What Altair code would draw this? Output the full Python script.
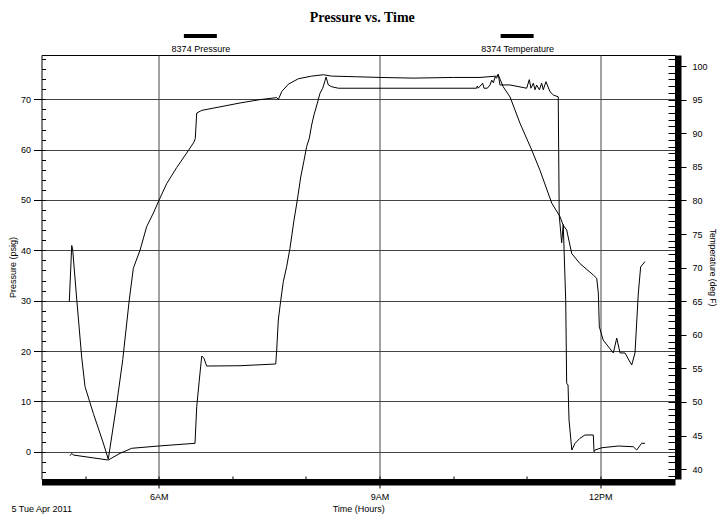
import altair as alt
import pandas as pd

DAY = "2011-04-05"

chart_title = "Pressure vs. Time"
legend_labels = ["8374 Pressure", "8374 Temperature"]
date_label = "5 Tue Apr 2011"
x_title = "Time (Hours)"
left_title = "Pressure (psig)"
right_title = "Temperature (deg F)"

# 8374 Pressure (left axis, psig)
press_times = [
    "04:47:42", "04:49:06", "04:50:24", "05:18:54", "05:28:30", "05:38:00", "05:59:42", "06:29:36",
    "06:31:00", "06:33:06", "06:35:06", "06:36:54", "06:39:06", "07:06:18", "07:35:24", "07:36:12",
    "07:37:30", "07:39:30", "07:41:36", "07:44:18", "07:47:00", "07:50:18", "07:53:00", "07:55:48",
    "07:58:30", "08:00:36", "08:02:48", "08:04:42", "08:06:36", "08:09:18", "08:11:30", "08:13:42",
    "08:15:36", "08:16:24", "08:18:18", "08:21:00", "08:26:24", "10:19:12", "10:19:42", "10:20:30",
    "10:24:06", "10:25:12", "10:27:54", "10:30:06", "10:31:30", "10:32:48", "10:34:12", "10:35:30",
    "10:36:48", "10:38:12", "10:46:24", "11:00:00", "11:02:06", "11:03:30", "11:05:24", "11:06:48",
    "11:08:06", "11:10:18", "11:12:12", "11:13:30", "11:15:42", "11:19:00", "11:21:42", "11:25:42",
    "11:26:30", "11:28:30", "11:29:48", "11:31:48", "11:32:36", "11:33:42", "11:34:30", "11:36:48",
    "11:39:24", "11:43:24", "11:47:30", "11:54:18", "11:54:54", "11:55:42", "12:01:12", "12:14:42",
    "12:26:54", "12:29:42", "12:33:42", "12:36:24",
]
press_values = [
    -0.79, -0.32, -0.66, -1.65, -0.32, 0.68, 1.13, 1.67,
    8.94, 14.24, 19.01, 18.55, 17.02, 17.08, 17.42, 20.2,
    26.16, 30.1, 33.8, 36.75, 40.4, 46.0, 50.0, 54.6,
    57.9, 60.6, 62.3, 64.9, 66.9, 69.2, 71.2, 72.2,
    73.7, 74.4, 72.85, 72.5, 72.2, 72.2, 72.65, 72.2,
    73.2, 72.2, 72.2, 72.85, 73.8, 73.3, 74.4, 74.2,
    75.0, 72.85, 72.85, 72.2, 73.9, 72.2, 73.2, 71.9,
    72.85, 71.9, 73.2, 71.9, 73.5, 71.5, 70.85, 70.5,
    47.0, 41.5, 45.1, 30.1, 13.6, 13.25, 6.3, 0.34,
    1.67, 2.66, 3.32, 3.32, 0.0, 0.34, 0.79, 1.13,
    0.99, 0.34, 1.67, 1.67,
]

# 8374 Temperature (right axis, deg F)
temp_times = [
    "04:47:06", "04:49:06", "04:49:54", "04:53:12", "04:57:12", "04:59:54", "05:06:42", "05:14:48",
    "05:18:54", "05:25:48", "05:30:42", "05:36:00", "05:39:18", "05:44:48", "05:50:12", "05:55:36",
    "06:00:12", "06:06:30", "06:14:42", "06:24:06", "06:28:48", "06:29:48", "06:31:00", "06:35:06",
    "07:06:18", "07:22:36", "07:36:12", "07:37:30", "07:40:18", "07:45:42", "07:53:48", "08:04:42",
    "08:14:12", "08:21:00", "08:41:24", "09:00:24", "09:27:30", "10:00:12", "10:21:54", "10:35:30",
    "10:36:48", "10:40:54", "10:46:24", "10:54:30", "11:04:06", "11:10:48", "11:20:24", "11:27:06",
    "11:29:48", "11:32:36", "11:36:42", "11:43:24", "11:54:18", "11:57:06", "11:58:24", "11:59:12",
    "12:02:24", "12:10:36", "12:13:24", "12:16:06", "12:20:06", "12:25:36", "12:28:18", "12:31:00",
    "12:32:54", "12:36:24",
]
temp_values = [
    64.9, 73.3, 72.6, 65.2, 56.7, 52.3, 48.3, 43.9,
    41.5, 49.8, 56.3, 65.2, 69.9, 72.6, 76.1, 78.1,
    80.0, 82.5, 84.9, 87.4, 88.7, 89.2, 93.0, 93.4,
    94.5, 95.0, 95.3, 95.0, 96.2, 97.3, 98.1, 98.5,
    98.7, 98.5, 98.4, 98.3, 98.2, 98.3, 98.3, 98.5,
    98.7, 96.9, 95.4, 91.5, 87.5, 84.5, 79.6, 77.6,
    76.3, 75.6, 72.1, 70.6, 68.9, 68.4, 66.2, 61.2,
    59.2, 57.3, 59.5, 57.3, 57.3, 55.5, 57.3, 66.2,
    70.1, 70.9,
]

major_hours = [6, 9, 12]
minor_hours = [5, 6, 7, 8, 9, 10, 11, 12]
press_major = list(range(0, 71, 10))
press_minor = list(range(-4, 79, 2))
temp_major = list(range(40, 101, 5))
temp_minor = list(range(39, 102))

FONT = "Liberation Sans"
GRID = "#444444"


def dt(h, m=0, s=0):
    return alt.DateTime(year=2011, month=4, date=5, hours=h, minutes=m, seconds=s)


press_df = pd.DataFrame({"time": [f"{DAY}T{t}" for t in press_times], "value": press_values})
temp_df = pd.DataFrame({"time": [f"{DAY}T{t}" for t in temp_times], "value": temp_values})

x_scale = alt.Scale(domain=[dt(4, 24, 27), dt(13, 0, 54)], nice=False)
p_scale = alt.Scale(domain=[-5.42, 78.8], nice=False, zero=False)
t_scale = alt.Scale(domain=[38.54, 101.64], nice=False, zero=False)

lab = dict(labelFont=FONT, labelFontSize=9, labelColor="black")
tit = dict(titleFont=FONT, titleFontSize=9, titleFontWeight="normal", titleColor="black")

x_major = alt.Axis(orient="bottom", values=[dt(h) for h in major_hours], format="%-I%p",
                   offset=3, domain=True, domainWidth=6, domainColor="black",
                   tickSize=6, tickColor="black", grid=True, gridColor=GRID, gridWidth=1,
                   labelPadding=4, title=x_title, titlePadding=3, **lab, **tit)
x_minor = alt.Axis(orient="bottom", values=[dt(h) for h in minor_hours], offset=-3,
                   domain=False, tickSize=3, tickColor="black", labels=False, grid=False, title=None)
y_left = alt.Axis(orient="left", values=press_major, domain=False, tickSize=8, tickColor="black",
                  grid=True, gridColor=GRID, gridWidth=1, labelPadding=3,
                  title=left_title, titlePadding=3, **lab, **tit)
y_left_minor = alt.Axis(orient="left", values=press_minor, offset=-4, domain=False, tickSize=4,
                        tickColor="black", labels=False, grid=False, title=None)
y_right = alt.Axis(orient="right", values=temp_major, offset=3, domain=True, domainWidth=6,
                   domainColor="black", tickSize=8, tickColor="black", grid=False, labelPadding=6,
                   title=right_title, titlePadding=0, titleFont=FONT, titleFontSize=8.5,
                   titleFontWeight="normal", titleColor="black", **lab)
y_right_minor = alt.Axis(orient="right", values=temp_minor, offset=-7, domain=False, tickSize=7,
                         tickColor="black", labels=False, grid=False, title=None)

pressure = alt.Chart(press_df).mark_line(color="black", strokeWidth=1).encode(
    x=alt.X("time:T", scale=x_scale, axis=x_major),
    y=alt.Y("value:Q", scale=p_scale, axis=y_left),
)
temperature = alt.Chart(temp_df).mark_line(color="black", strokeWidth=1).encode(
    x=alt.X("time:T", scale=x_scale, axis=None),
    y=alt.Y("value:Q", scale=t_scale, axis=y_right),
)
press_ticks = alt.Chart(press_df).mark_line(strokeOpacity=0).encode(
    x=alt.X("time:T", scale=x_scale, axis=x_minor),
    y=alt.Y("value:Q", scale=p_scale, axis=y_left_minor),
)
temp_ticks = alt.Chart(temp_df).mark_line(strokeOpacity=0).encode(
    x=alt.X("time:T", scale=x_scale, axis=None),
    y=alt.Y("value:Q", scale=t_scale, axis=y_right_minor),
)

legend_layers = []
for frac, label in zip([0.25, 0.75], legend_labels):
    one = pd.DataFrame({"label": [label]})
    legend_layers.append(
        alt.Chart(one).mark_rule(color="black", strokeWidth=4).encode(
            x=alt.value({"expr": f"width * {frac} - 16"}),
            x2=alt.value({"expr": f"width * {frac} + 17"}),
            y=alt.value(-19),
        )
    )
    legend_layers.append(
        alt.Chart(one).mark_text(font=FONT, fontSize=9, color="black", align="center",
                                 baseline="alphabetic").encode(
            text="label:N",
            x=alt.value({"expr": f"width * {frac} + 1"}),
            y=alt.value(-3.5),
        )
    )

date_text = alt.Chart(pd.DataFrame({"d": [date_label]})).mark_text(
    font=FONT, fontSize=9, color="black", align="left", baseline="alphabetic"
).encode(
    text="d:N",
    x=alt.value(-30),
    y=alt.value({"expr": "height + 32.5"}),
)

chart = alt.layer(pressure, temperature, press_ticks, temp_ticks, *legend_layers, date_text).resolve_scale(
    y="independent"
).resolve_axis(
    x="independent", y="independent"
).properties(
    width=633.5,
    height=424,
    title=alt.TitleParams(chart_title, font="Liberation Serif", fontSize=14, fontWeight="bold",
                          color="black", anchor="middle", offset=9, dx=4),
    padding={"left": 33.5, "top": 47, "right": 42, "bottom": 35},
    autosize="none",
).configure_view(stroke="black", strokeWidth=1)

chart.save("out.html", embed_options={"renderer": "svg", "actions": False})
